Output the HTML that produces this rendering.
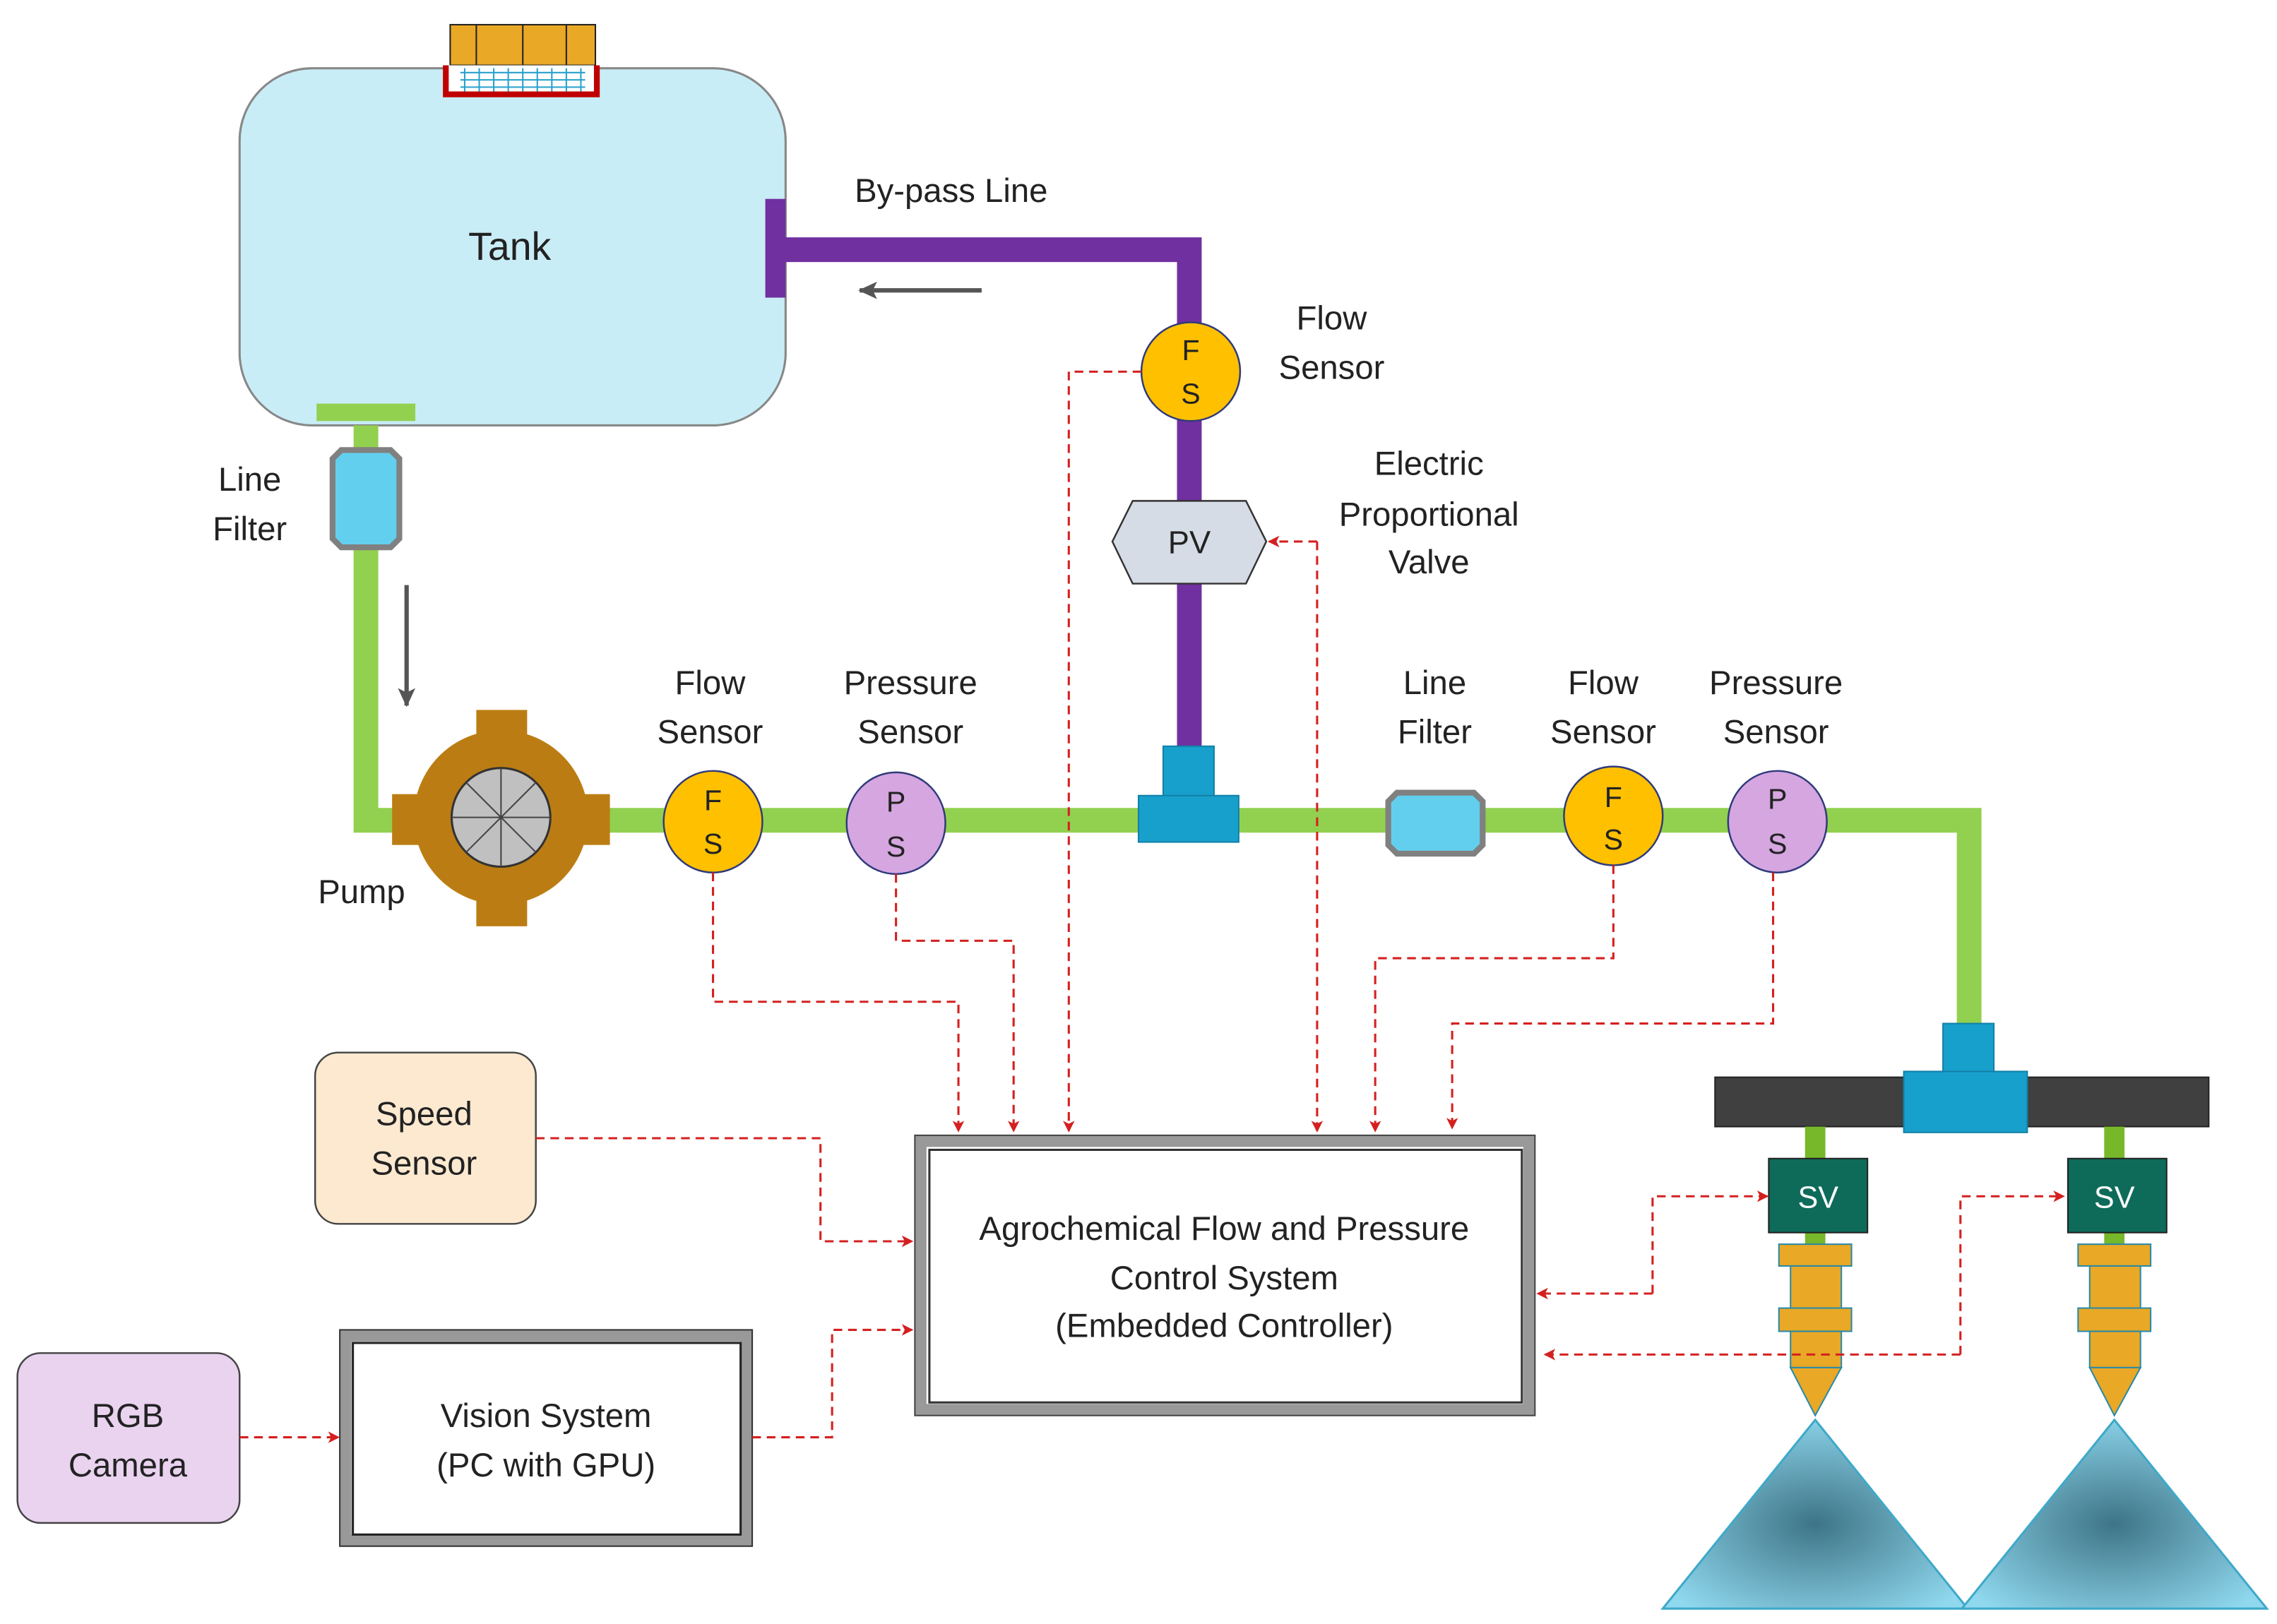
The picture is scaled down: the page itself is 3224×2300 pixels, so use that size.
<!DOCTYPE html>
<html><head><meta charset="utf-8"><style>html,body{margin:0;padding:0;background:#fff}svg{display:block}</style></head>
<body>
<svg width="3224" height="2300" viewBox="0 0 1568 1118.6" xmlns="http://www.w3.org/2000/svg" font-family="Liberation Sans, sans-serif" fill="#222">
<defs>
<marker id="ar" markerWidth="8" markerHeight="8" refX="7" refY="4" orient="auto" markerUnits="userSpaceOnUse"><path d="M0,0 L8,4 L0,8 L2,4 z" fill="#d42020"/></marker>
<marker id="ga" markerWidth="14" markerHeight="12" refX="12" refY="6" orient="auto" markerUnits="userSpaceOnUse"><path d="M0,0 L13,6 L0,12 L3,6 z" fill="#555"/></marker>
<radialGradient id="sp" cx="0.5" cy="0.55" r="0.6"><stop offset="0" stop-color="#3e7487"/><stop offset="1" stop-color="#8fd8ee"/></radialGradient>
</defs>
<!-- Tank -->
<rect x="165" y="47" width="376" height="246" rx="50" fill="#c9edf6" stroke="#888" stroke-width="1.5"/>
<text x="351" y="179" font-size="27" text-anchor="middle">Tank</text>
<rect x="310" y="17" width="100" height="28" fill="#e9a825" stroke="#222" stroke-width="1"/>
<path d="M328 17v28M360 17v28M390 17v28" stroke="#222" stroke-width="1"/>
<path d="M307 45 v20 h104 v-20" fill="#fff" stroke="#c00000" stroke-width="4"/>
<g stroke="#29a0cc" stroke-width="1"><path d="M317 50h86M317 55h86M317 60h86"/><path d="M320 47v16M330 47v16M340 47v16M350 47v16M360 47v16M370 47v16M380 47v16M390 47v16M400 47v16"/></g>
<rect x="218" y="278" width="68" height="12" fill="#92d050"/>
<!-- green pipes -->
<path d="M252 293 V565 H1356 V706" fill="none" stroke="#92d050" stroke-width="17"/>
<!-- line filter vertical -->
<path d="M235 310 h34 l6 6 v55 l-6 6 h-34 l-6 -6 v-55 z" fill="#63cfee" stroke="#808080" stroke-width="4"/>
<line x1="280" y1="403" x2="280" y2="486" stroke="#555" stroke-width="3" marker-end="url(#ga)"/>
<text x="172" y="338" font-size="23" text-anchor="middle">Line</text>
<text x="172" y="372" font-size="23" text-anchor="middle">Filter</text>
<!-- pump -->
<rect x="328" y="489" width="35" height="149" fill="#bb7d13"/>
<rect x="270" y="547" width="150" height="35" fill="#bb7d13"/>
<circle cx="345" cy="563" r="60" fill="#bb7d13"/>
<circle cx="345" cy="563" r="34" fill="#c0c0c0" stroke="#333" stroke-width="1.5"/>
<g stroke="#444" stroke-width="1"><path d="M345 529v68M311 563h68M321 539l48 48M369 539l-48 48"/></g>
<text x="249" y="622" font-size="23" text-anchor="middle">Pump</text>
<!-- purple bypass -->
<path d="M534 172 H819 V515" fill="none" stroke="#7030a0" stroke-width="17"/>
<rect x="527" y="137" width="14" height="68" fill="#7030a0"/>
<line x1="676" y1="200" x2="592" y2="200" stroke="#555" stroke-width="3" marker-end="url(#ga)"/>
<text x="655" y="139" font-size="23" text-anchor="middle">By-pass Line</text>
<!-- T junction -->
<rect x="801" y="514" width="35" height="36" fill="#17a0cb" stroke="#1380a8" stroke-width="1"/>
<rect x="784" y="548" width="69" height="32" fill="#17a0cb" stroke="#1380a8" stroke-width="1"/>
<!-- PV -->
<polygon points="766,373 780,345 858,345 872,373 858,402 780,402" fill="#d6dce5" stroke="#333" stroke-width="1.2"/>
<text x="819" y="381" font-size="22" text-anchor="middle">PV</text>
<text x="984" y="327" font-size="23" text-anchor="middle">Electric</text>
<text x="984" y="362" font-size="23" text-anchor="middle">Proportional</text>
<text x="984" y="395" font-size="23" text-anchor="middle">Valve</text>
<!-- sensors -->
<g font-size="20" text-anchor="middle" stroke-width="1.2">
<ellipse cx="820" cy="256" rx="34" ry="34" fill="#ffc000" stroke="#2f3a7a"/><text x="820" y="248">F</text><text x="820" y="278">S</text>
<ellipse cx="491" cy="566" rx="34" ry="35" fill="#ffc000" stroke="#2f3a7a"/><text x="491" y="558">F</text><text x="491" y="588">S</text>
<ellipse cx="617" cy="567" rx="34" ry="35" fill="#d5a6e0" stroke="#2f3a7a"/><text x="617" y="559">P</text><text x="617" y="590">S</text>
<ellipse cx="1111" cy="562" rx="34" ry="34" fill="#ffc000" stroke="#2f3a7a"/><text x="1111" y="556">F</text><text x="1111" y="585">S</text>
<ellipse cx="1224" cy="566" rx="34" ry="35" fill="#d5a6e0" stroke="#2f3a7a"/><text x="1224" y="557">P</text><text x="1224" y="588">S</text>
</g>
<g font-size="23" text-anchor="middle">
<text x="917" y="227">Flow</text><text x="917" y="261">Sensor</text>
<text x="489" y="478">Flow</text><text x="489" y="512">Sensor</text>
<text x="627" y="478">Pressure</text><text x="627" y="512">Sensor</text>
<text x="988" y="478">Line</text><text x="988" y="512">Filter</text>
<text x="1104" y="478">Flow</text><text x="1104" y="512">Sensor</text>
<text x="1223" y="478">Pressure</text><text x="1223" y="512">Sensor</text>
</g>
<!-- line filter horizontal -->
<path d="M962 546 h53 l6 6 v30 l-6 6 h-53 l-6 -6 v-30 z" fill="#63cfee" stroke="#808080" stroke-width="4"/>
<!-- boom -->
<rect x="1181" y="742" width="340" height="34" fill="#404040" stroke="#222"/>
<rect x="1338" y="705" width="35" height="35" fill="#17a0cb" stroke="#1380a8"/>
<rect x="1311" y="738" width="85" height="42" fill="#17a0cb" stroke="#1380a8"/>
<!-- nozzles -->
<g id="nz">
<rect x="1243" y="776" width="14" height="24" fill="#76b82a"/>
<rect x="1243" y="848" width="14" height="10" fill="#76b82a"/>
<rect x="1218" y="798" width="68" height="51" fill="#0e6b5a" stroke="#222"/>
<rect x="1225" y="857" width="50" height="15" fill="#e9a825" stroke="#2a8aa8"/>
<rect x="1233" y="872" width="35" height="29" fill="#e9a825" stroke="#2a8aa8"/>
<rect x="1225" y="901" width="50" height="16" fill="#e9a825" stroke="#2a8aa8"/>
<rect x="1233" y="917" width="35" height="25" fill="#e9a825" stroke="#2a8aa8"/>
<polygon points="1233,942 1268,942 1250,975" fill="#e9a825" stroke="#2a8aa8"/>
<polygon points="1250,978 1355,1108 1145,1108" fill="url(#sp)" stroke="#3fa9c9" stroke-width="1.5"/>
</g>
<use href="#nz" transform="translate(206,0)"/>
<text x="1252" y="832" font-size="21" fill="#fff" text-anchor="middle">SV</text>
<text x="1456" y="832" font-size="21" fill="#fff" text-anchor="middle">SV</text>
<!-- controller -->
<rect x="634" y="786" width="419" height="185" fill="#fff" stroke="#999" stroke-width="8"/>
<rect x="640" y="792" width="408" height="174" fill="none" stroke="#333" stroke-width="1.5"/>
<rect x="630" y="782" width="427" height="193" fill="none" stroke="#444" stroke-width="1"/>
<g font-size="23" text-anchor="middle"><text x="843" y="854">Agrochemical Flow and Pressure</text><text x="843" y="888">Control System</text><text x="843" y="921">(Embedded Controller)</text></g>
<!-- speed sensor -->
<rect x="217" y="725" width="152" height="118" rx="16" fill="#fce9d0" stroke="#444" stroke-width="1.2"/>
<g font-size="23" text-anchor="middle"><text x="292" y="775">Speed</text><text x="292" y="809">Sensor</text></g>
<!-- RGB -->
<rect x="12" y="932" width="153" height="117" rx="16" fill="#e9d3ef" stroke="#444" stroke-width="1.2"/>
<g font-size="23" text-anchor="middle"><text x="88" y="983">RGB</text><text x="88" y="1017">Camera</text></g>
<!-- vision -->
<rect x="238" y="920" width="276" height="141" fill="#fff" stroke="#999" stroke-width="8"/>
<rect x="243" y="925" width="267" height="132" fill="none" stroke="#222" stroke-width="1.5"/>
<rect x="234" y="916" width="284" height="149" fill="none" stroke="#333" stroke-width="1"/>
<g font-size="23" text-anchor="middle"><text x="376" y="983">Vision System</text><text x="376" y="1017">(PC with GPU)</text></g>
<!-- red dashed signals -->
<g fill="none" stroke="#d42020" stroke-width="1.5" stroke-dasharray="6,4">
<path d="M491 601 V690 H660 V779" marker-end="url(#ar)"/>
<path d="M617 602 V648 H698 V779" marker-end="url(#ar)"/>
<path d="M786 256 H736 V779" marker-end="url(#ar)"/>
<path d="M907 373 V779" marker-end="url(#ar)"/>
<path d="M907 373 H874" marker-end="url(#ar)"/>
<path d="M1111 596 V660 H947 V779" marker-end="url(#ar)"/>
<path d="M1221 601 V705 H1000 V777" marker-end="url(#ar)"/>
<path d="M369 784 H565 V855 H628" marker-end="url(#ar)"/>
<path d="M518 990 H573 V916 H628" marker-end="url(#ar)"/>
<path d="M165 990 H233" marker-end="url(#ar)"/>
<path d="M1138 891 V824 H1217" marker-end="url(#ar)"/>
<path d="M1138 891 H1059" marker-end="url(#ar)"/>
<path d="M1350 933 V824 H1421" marker-end="url(#ar)"/>
<path d="M1350 933 H1064" marker-end="url(#ar)"/>
</g>
</svg>
</body></html>
